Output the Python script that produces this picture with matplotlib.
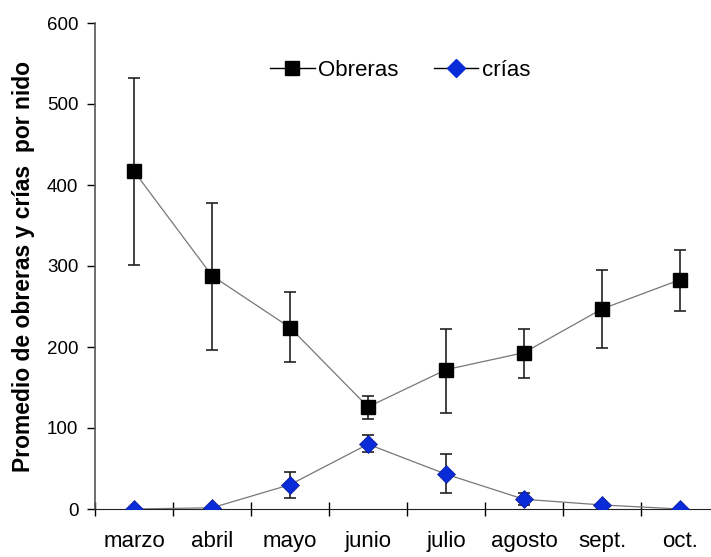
import matplotlib.pyplot as plt
import numpy as np

plt.rcParams['font.family'] = ['Liberation Sans', 'DejaVu Sans']

# data
meses = ["marzo", "abril", "mayo", "junio", "julio", "agosto", "sept.", "oct."]
obreras = [417, 288, 224, 126, 172, 193, 247, 283]
obreras_sup = [532, 378, 268, 140, 222, 222, 295, 320]
obreras_inf = [301, 196, 181, 111, 118, 162, 199, 244]
crias = [0, 1.5, 30, 80, 43, 12, 5, 0]
crias_sup = [0, 1.5, 46, 91, 68, 20, 5, 0]
crias_inf = [0, 1.5, 14, 70, 20, 5, 5, 0]

x = np.arange(len(meses))
obr = np.array(obreras)
cri = np.array(crias)
err_obr = [obr - np.array(obreras_inf), np.array(obreras_sup) - obr]
err_cri = [cri - np.array(crias_inf), np.array(crias_sup) - cri]

fig = plt.figure(figsize=(7.11, 5.57), dpi=100)
ax = fig.add_axes([95/711, 48/557, 624/711, 486/557])

ax.errorbar(x, obr, yerr=err_obr, fmt='none', ecolor='#222222', elinewidth=1.2,
            capsize=4, capthick=1.2, zorder=2)
ax.errorbar(x, cri, yerr=err_cri, fmt='none', ecolor='#222222', elinewidth=1.2,
            capsize=4, capthick=1.2, zorder=2)
ax.plot(x, obr, color='#777777', lw=0.9, zorder=3)
ax.plot(x, cri, color='#777777', lw=0.9, zorder=3)
ax.plot(x, obr, 's', color='black', ms=10, zorder=4)
ax.plot(x, cri, 'D', color='#0a2bd8', mec='#0a1a90', mew=0.5, ms=9.5, zorder=4)

# legend handles
h1, = ax.plot([], [], '-s', color='black', mfc='black', ms=10, lw=1)
h2, = ax.plot([], [], '-D', color='black', mfc='#0a2bd8', mec='#0a2bd8', ms=9.5, lw=1)
ax.legend([h1, h2], ["Obreras", "crías"], ncol=2, frameon=False, fontsize=16,
          loc='center', bbox_to_anchor=(400/711, 1 - 70/557),
          bbox_transform=fig.transFigure, handlelength=2.0, handletextpad=0.15,
          columnspacing=1.6)

ax.set_xlim(-0.5, 7.5)
ax.set_ylim(0, 600)
ax.set_yticks([0, 100, 200, 300, 400, 500, 600])
ax.set_xticks(x)
ax.set_xticklabels(meses)
ax.set_xticks(np.arange(-0.5, 8, 1), minor=True)
ax.tick_params(axis='x', which='major', length=0, pad=16, labelsize=16)
ax.tick_params(axis='x', which='minor', direction='inout', length=10, width=1)
ax.tick_params(axis='y', direction='out', length=6, width=1, pad=6, labelsize=13.5)

for s in ['top', 'right']:
    ax.spines[s].set_visible(False)
ax.spines['left'].set_color('#555555')
ax.spines['bottom'].set_color('#222222')
ax.spines['left'].set_linewidth(1.2)

ax.set_ylabel("Promedio de obreras y crías  por nido", fontsize=16.5,
              fontweight='bold')
ax.yaxis.set_label_coords(-60/624, 0.5)

fig.savefig("out.png", dpi=100)
